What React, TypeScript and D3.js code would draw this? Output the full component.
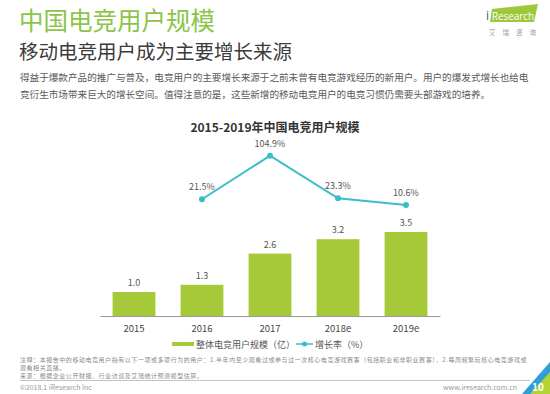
import React, { useEffect, useRef } from 'react';
import * as d3 from 'd3';

const years = ['2015', '2016', '2017', '2018e', '2019e'];
const users = [1.0, 1.3, 2.6, 3.2, 3.5];
const growthYears = ['2016', '2017', '2018e', '2019e'];
const growth = [21.5, 104.9, 23.3, 10.6];

const legendLabels = ['整体电竞用户规模（亿）', '增长率（%）'];
const paragraph = [
  '得益于爆款产品的推广与普及，电竞用户的主要增长来源于之前未曾有电竞游戏经历的新用户。用户的爆发式增长也给电',
  '竞衍生市场带来巨大的增长空间。值得注意的是，这些新增的移动电竞用户的电竞习惯仍需要头部游戏的培养。',
];
const notes = [
  '注释：本报告中的移动电竞用户指有以下一项或多项行为的用户：1.半年内至少观看过或参与过一次核心电竞游戏赛事（包括职业和非职业赛事），2.每周频繁玩核心电竞游戏或',
  '观看相关直播。',
  '来源：根据企业公开财报、行业访谈及艾瑞统计预测模型估算。',
];

const FONT = '"Noto Sans CJK SC", "Noto Sans", sans-serif';
const BAR = '#a6c93a';
const LINE = '#3bbccb';

export default function App() {
  const ref = useRef<SVGGElement>(null);

  useEffect(() => {
    if (!ref.current) return;
    const g = d3.select(ref.current);
    g.selectAll('*').remove();

    const x = d3.scaleBand().domain(years).range([100, 440]).paddingInner(0.37).paddingOuter(0.185);
    const yBar = d3.scaleLinear().domain([0, 3.5]).range([316, 232]);
    const yLine = d3.scaleLinear().domain([0, 104.9]).range([210.5, 155.7]);
    const cx = (d: string) => (x(d) as number) + x.bandwidth() / 2;

    // bars
    g.selectAll('rect.bar')
      .data(users)
      .enter()
      .append('rect')
      .attr('class', 'bar')
      .attr('x', (_, i) => x(years[i]) as number)
      .attr('y', d => yBar(d))
      .attr('width', x.bandwidth())
      .attr('height', d => yBar(0) - yBar(d))
      .attr('fill', BAR);

    g.selectAll('text.bar-label')
      .data(users)
      .enter()
      .append('text')
      .attr('class', 'bar-label')
      .attr('x', (_, i) => cx(years[i]))
      .attr('y', d => yBar(d) - 6)
      .attr('text-anchor', 'middle')
      .attr('font-size', 9)
      .attr('fill', '#555')
      .text(d => d.toFixed(1));

    // x axis
    const axis = g
      .append('g')
      .attr('transform', 'translate(0,316)')
      .call(d3.axisBottom(x).tickSize(0).tickPadding(9));
    axis.select('.domain').attr('stroke', '#999').attr('stroke-width', 1);
    axis
      .selectAll('text')
      .attr('font-size', 9.5)
      .attr('font-family', FONT)
      .attr('fill', '#444');

    // growth line
    const line = d3
      .line<number>()
      .x((_, i) => cx(growthYears[i]))
      .y(d => yLine(d));

    g.append('path')
      .datum(growth)
      .attr('d', line)
      .attr('fill', 'none')
      .attr('stroke', LINE)
      .attr('stroke-width', 2);

    g.selectAll('circle.pt')
      .data(growth)
      .enter()
      .append('circle')
      .attr('class', 'pt')
      .attr('cx', (_, i) => cx(growthYears[i]))
      .attr('cy', d => yLine(d))
      .attr('r', 3)
      .attr('fill', LINE);

    g.selectAll('text.pt-label')
      .data(growth)
      .enter()
      .append('text')
      .attr('class', 'pt-label')
      .attr('x', (_, i) => cx(growthYears[i]))
      .attr('y', d => yLine(d) - 9)
      .attr('text-anchor', 'middle')
      .attr('font-size', 9)
      .attr('fill', '#555')
      .text(d => `${d.toFixed(1)}%`);
  }, []);

  return (
    <svg
      width={550}
      height={394}
      style={{ position: 'absolute', left: 0, top: 0, background: '#fff' }}
      fontFamily={FONT}
    >
      <rect width={550} height={394} fill="#fff" />

      {/* header */}
      <text x={19} y={30} fontSize={24.5} fill="#8ac549">中国电竞用户规模</text>
      <text x={19} y={59} fontSize={19.5} fill="#3a3a3a">移动电竞用户成为主要增长来源</text>
      {paragraph.map((t, i) => (
        <text key={i} x={20} y={81 + i * 16.5} fontSize={9.6} fill="#595959">
          {t}
        </text>
      ))}

      {/* logo */}
      <polygon points="492,9 538,4 534,22 490,22" fill="#9dc83a" />
      <text x={486} y={19.5} fontSize={12} fill="#555" fontFamily="Open Sans, sans-serif">i</text>
      <text
        x={492}
        y={19.5}
        fontSize={11}
        fill="#fff"
        fontFamily="Open Sans, sans-serif"
        textLength={42}
        lengthAdjust="spacingAndGlyphs"
      >
        Research
      </text>
      <text x={489} y={35} fontSize={6.5} fill="#999" letterSpacing={7}>艾瑞咨询</text>

      {/* chart title */}
      <text x={275} y={132} fontSize={12} fontWeight="bold" fill="#333" textAnchor="middle">
        2015-2019年中国电竞用户规模
      </text>

      <g ref={ref} />

      {/* legend */}
      <rect x={172} y={342} width={22} height={4} fill={BAR} />
      <text x={196} y={347.5} fontSize={9} fill="#555">{legendLabels[0]}</text>
      <line x1={296} x2={313} y1={344} y2={344} stroke={LINE} strokeWidth={1.5} />
      <circle cx={304.5} cy={344} r={2.5} fill={LINE} />
      <text x={315} y={347.5} fontSize={9} fill="#555">{legendLabels[1]}</text>

      {/* footer */}
      {notes.map((t, i) => (
        <text key={i} x={20} y={361.5 + i * 8} fontSize={6} letterSpacing={0.55} fill="#8a8a8a">
          {t}
        </text>
      ))}
      <line x1={20} x2={530} y1={380.5} y2={380.5} stroke="#aaa" strokeWidth={0.7} />
      <text x={20} y={389.5} fontSize={7} fill="#999">©2018.1 iResearch Inc</text>
      <text x={517} y={389.5} fontSize={7} fill="#999" textAnchor="end">www.iresearch.com.cn</text>
      <polygon points="522,394 550,362 550,394" fill="#2e9fd8" />
      <polygon points="530,394 550,372 550,394" fill="#b5d334" />
      <text x={538} y={391} fontSize={10} fill="#fff" textAnchor="middle" fontWeight="bold">10</text>
    </svg>
  );
}
